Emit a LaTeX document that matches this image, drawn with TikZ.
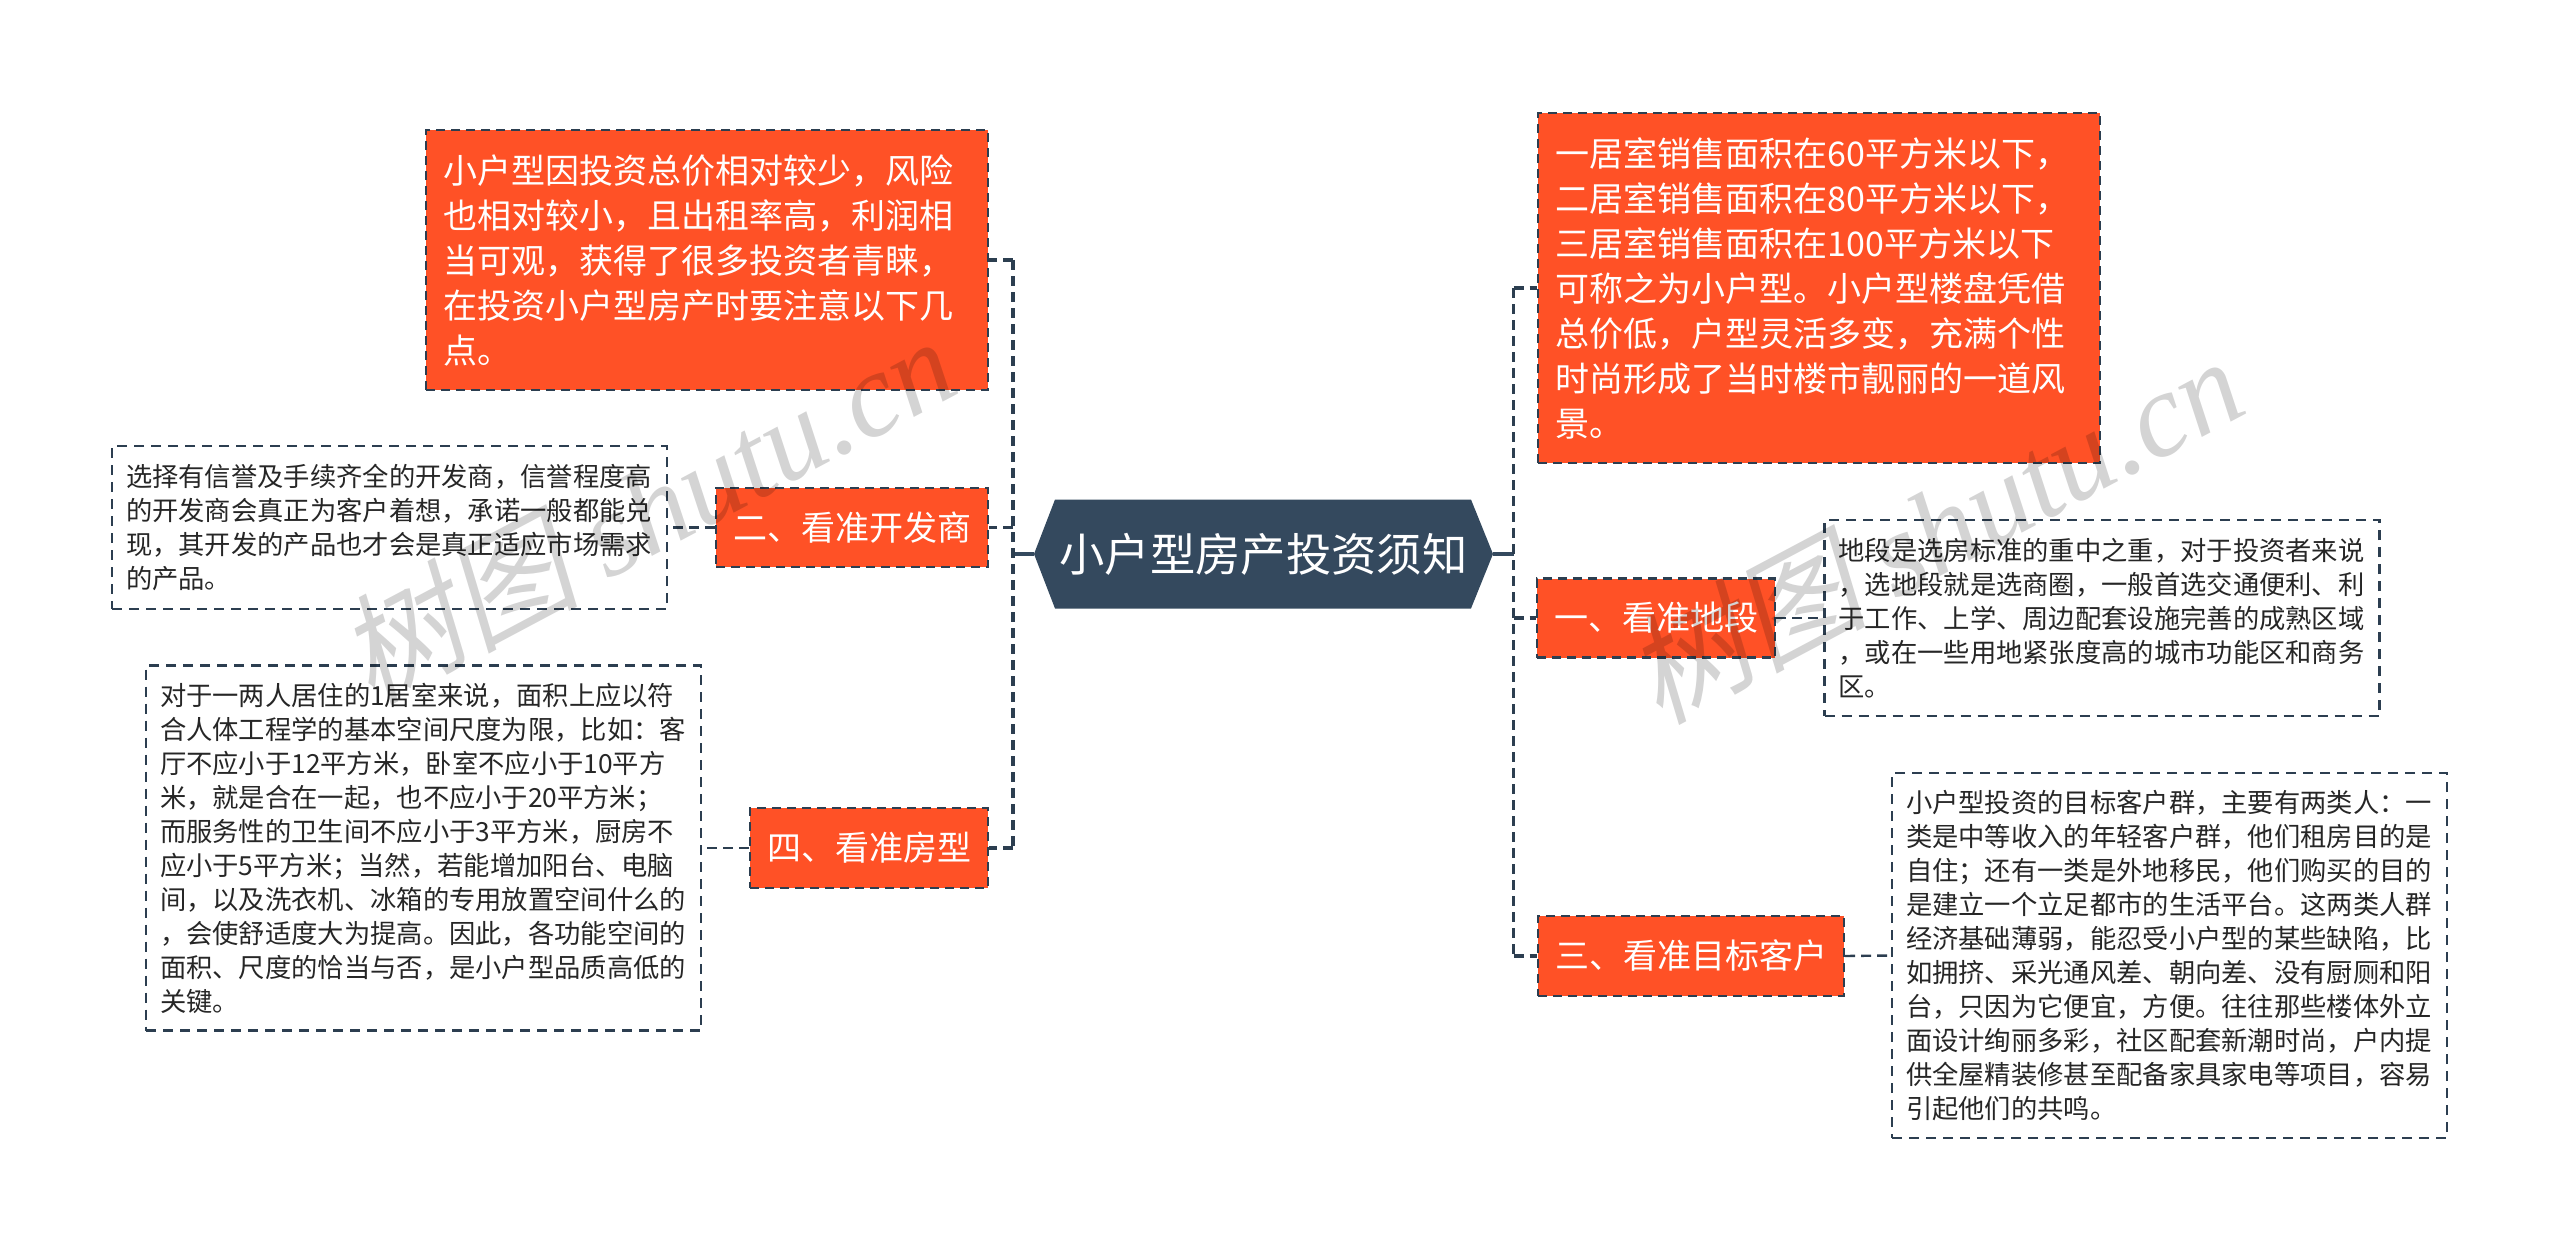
\documentclass[tikz,border=0pt]{standalone}
\usepackage{fontspec}
\setmainfont{Noto Sans CJK SC}
\newfontfamily\wmcjk[FakeSlant=0.2]{Noto Sans CJK SC}
\newfontfamily\wmlat{Liberation Serif Italic}
\usetikzlibrary{calc}
\definecolor{slateblue}{HTML}{34495E}
\definecolor{boxorange}{HTML}{FF5126}
\definecolor{dashdark}{HTML}{2C3E50}
\tikzset{
  x=1pt,y=-1pt,
  hot/.style={rectangle,fill=boxorange,draw=dashdark,line width=2.4pt,dash pattern=on 9pt off 6pt,
    text=white,inner xsep=17.5pt,inner ysep=0pt,align=left,font=\fontsize{34}{45}\selectfont},
  hotsmall/.style={hot,inner xsep=17pt,align=center},
  leaf/.style={rectangle,draw=dashdark,line width=2.2pt,dash pattern=on 10pt off 7pt,
    text=black!85,inner xsep=14pt,inner ysep=0pt,align=left,font=\fontsize{26.3}{34}\selectfont},
  conn/.style={draw=dashdark,line width=3.2pt,dash pattern=on 10pt off 6pt},
  leafconn/.style={draw=dashdark,line width=2.4pt,dash pattern=on 10pt off 6pt},
  stub/.style={draw=slateblue,line width=4.5pt},
  wmark/.style={text=black,text opacity=0.17,inner sep=0pt,rotate=28,font=\fontsize{120}{120}\selectfont}
}
\begin{document}
\begin{tikzpicture}
\useasboundingbox (0,0) rectangle (2560,1252);
% root hexagon
\fill[slateblue] (1034,554) -- (1055,499.5) -- (1471,499.5) -- (1493,554) -- (1471,608.5) -- (1055,608.5) -- cycle;
\node[text=white,inner sep=0pt,minimum width=459pt,minimum height=109pt,font=\fontsize{45.3}{50}\selectfont] (root) at (1263.5,554) {小户型房产投资须知};
% left branch
\node[hot,text width=527pt,minimum height=260pt] (intro) at (707,260) {小户型因投资总价相对较少，风险\\也相对较小，且出租率高，利润相\\当可观，获得了很多投资者青睐，\\在投资小户型房产时要注意以下几\\点。};
\node[hotsmall,text width=238pt,minimum height=79pt] (two) at (852,527.5) {二、看准开发商};
\node[leaf,text width=527pt,minimum height=163pt] (twoleaf) at (389.5,527.5) {选择有信誉及手续齐全的开发商，信誉程度高\\的开发商会真正为客户着想，承诺一般都能兑\\现，其开发的产品也才会是真正适应市场需求\\的产品。};
\node[hotsmall,text width=204pt,minimum height=80pt] (four) at (869,848) {四、看准房型};
\node[leaf,text width=527pt,minimum height=365pt] (fourleaf) at (423.5,848) {对于一两人居住的1居室来说，面积上应以符\\合人体工程学的基本空间尺度为限，比如：客\\厅不应小于12平方米，卧室不应小于10平方\\米，就是合在一起，也不应小于20平方米；\\而服务性的卫生间不应小于3平方米，厨房不\\应小于5平方米；当然，若能增加阳台、电脑\\间，以及洗衣机、冰箱的专用放置空间什么的\\，会使舒适度大为提高。因此，各功能空间的\\面积、尺度的恰当与否，是小户型品质高低的\\关键。};
% right branch
\node[hot,text width=527pt,minimum height=350pt] (def) at (1819,288) {一居室销售面积在60平方米以下，\\二居室销售面积在80平方米以下，\\三居室销售面积在100平方米以下\\可称之为小户型。小户型楼盘凭借\\总价低，户型灵活多变，充满个性\\时尚形成了当时楼市靓丽的一道风\\景。};
\node[hotsmall,text width=204pt,minimum height=79pt] (one) at (1656,618) {一、看准地段};
\node[leaf,text width=527pt,minimum height=196pt] (oneleaf) at (2102,618) {地段是选房标准的重中之重，对于投资者来说\\，选地段就是选商圈，一般首选交通便利、利\\于工作、上学、周边配套设施完善的成熟区域\\，或在一些用地紧张度高的城市功能区和商务\\区。};
\node[hotsmall,text width=272pt,minimum height=80pt] (three) at (1691,956) {三、看准目标客户};
\node[leaf,text width=527pt,minimum height=365pt] (threeleaf) at (2169.5,955.5) {小户型投资的目标客户群，主要有两类人：一\\类是中等收入的年轻客户群，他们租房目的是\\自住；还有一类是外地移民，他们购买的目的\\是建立一个立足都市的生活平台。这两类人群\\经济基础薄弱，能忍受小户型的某些缺陷，比\\如拥挤、采光通风差、朝向差、没有厨厕和阳\\台，只因为它便宜，方便。往往那些楼体外立\\面设计绚丽多彩，社区配套新潮时尚，户内提\\供全屋精装修甚至配备家具家电等项目，容易\\引起他们的共鸣。};
% bus coordinates
\coordinate (busL) at (1013,554);
\coordinate (busR) at (1513.5,554);
% connectors
\draw[stub] (root.west) -- (busL);
\draw[stub] (root.east) -- (busR);
\draw[conn] (intro.east -| busL) -- (four.east -| busL);
\draw[conn] (def.west -| busR) -- (three.west -| busR);
\draw[conn] (busL |- intro.east) -- (intro.east);
\draw[conn] (busL |- two.east) -- (two.east);
\draw[conn] (busL |- four.east) -- (four.east);
\draw[conn] (busR |- def.west) -- (def.west);
\draw[conn] (busR |- one.west) -- (one.west);
\draw[conn] (busR |- three.west) -- (three.west);
\draw[leafconn] (two.west) -- (twoleaf.east);
\draw[leafconn] (four.west) -- (fourleaf.east);
\draw[leafconn] (one.east) -- (oneleaf.west);
\draw[leafconn] (three.east) -- (threeleaf.west);
% watermarks
\node[wmark] (wm1) at (646,508) {{\wmcjk 树图} {\wmlat shutu.cn}};
\node[wmark] (wm2) at (1934,528) {{\wmcjk 树图} {\wmlat shutu.cn}};
\end{tikzpicture}
\end{document}
